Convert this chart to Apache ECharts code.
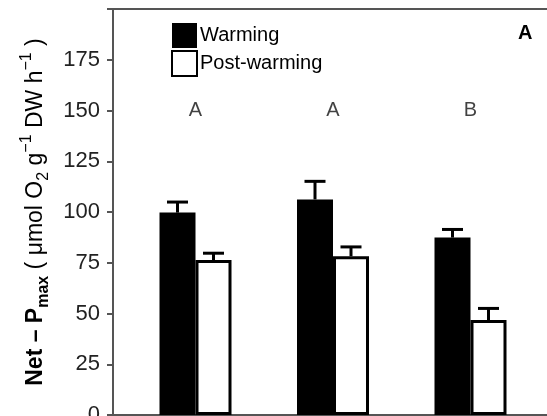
<!DOCTYPE html>
<html>
<head>
<meta charset="utf-8">
<script src="https://cdn.jsdelivr.net/npm/echarts@6/dist/echarts.min.js"></script>
<style>
  html, body { margin: 0; padding: 0; background: #fff; }
  #chart { width: 547px; height: 416px; }
</style>
</head>
<body>
<div id="chart"></div>
<script>
// Net photosynthesis (Pmax) per group, warming vs. post-warming, with SE
const groups = [1, 2, 3];
const warming = [99.7, 106.2, 87.4];
const warmingSE = [5.2, 8.9, 4.0];
const postWarming = [76.3, 78.2, 46.8];
const postWarmingSE = [3.4, 4.6, 5.7];
const letters = ['A', 'A', 'B'];
const letterLevel = 150;
const yTicks = [0, 25, 50, 75, 100, 125, 150, 175];

const BAR_W = 36;
const FONT = '"Liberation Sans", Arial, Helvetica, sans-serif';

// upper-only error whiskers, drawn over the centre of each bar
function errorSeries(name, means, ses, shift) {
  return {
    type: 'custom',
    name: name,
    data: groups.map((g, i) => [g, means[i], means[i] + ses[i]]),
    renderItem: function (params, api) {
      const base = api.coord([api.value(0), api.value(1)]);
      const top = api.coord([api.value(0), api.value(2)]);
      const x = base[0] + shift;
      const half = 10.5;
      return {
        type: 'group',
        children: [
          { type: 'line', shape: { x1: x, y1: base[1], x2: x, y2: top[1] },
            style: { stroke: '#000', lineWidth: 3 } },
          { type: 'line', shape: { x1: x - half, y1: top[1], x2: x + half, y2: top[1] },
            style: { stroke: '#000', lineWidth: 3 } }
        ]
      };
    },
    z: 3
  };
}

const chart = echarts.init(document.getElementById('chart'), null, { renderer: 'canvas' });

chart.setOption({
  animation: false,
  backgroundColor: '#fff',
  textStyle: { fontFamily: FONT },
  title: {
    text: 'A',
    left: 513, top: 18,
    textStyle: { fontSize: 20, fontWeight: 'bold', color: '#000', fontFamily: FONT }
  },
  legend: {
    data: ['Warming', 'Post-warming'],
    orient: 'vertical',
    left: 171, top: 23,
    padding: 0,
    itemWidth: 25, itemHeight: 25, itemGap: 2,
    icon: 'rect',
    textStyle: { fontSize: 20, color: '#000', fontFamily: FONT, padding: [0, 0, 0, -2] }
  },
  grid: { left: 113, top: 9, bottom: 1, width: 440, containLabel: false, outerBoundsMode: 'none' },
  xAxis: [
    {
      type: 'value', min: 0.4, max: 3.6, position: 'bottom',
      axisLine: { show: true, lineStyle: { color: '#555', width: 2 } },
      axisTick: { show: false }, axisLabel: { show: false }, splitLine: { show: false }
    },
    {
      type: 'value', min: 0.4, max: 3.6, position: 'top',
      axisLine: { show: true, lineStyle: { color: '#555', width: 2 } },
      axisTick: { show: false }, axisLabel: { show: false }, splitLine: { show: false }
    }
  ],
  yAxis: {
    type: 'value', min: 0, max: 200, interval: 25,
    axisLine: { show: true, lineStyle: { color: '#555', width: 2 } },
    axisTick: { show: true, length: 6, lineStyle: { color: '#555', width: 2 } },
    splitLine: { show: false },
    axisLabel: {
      margin: 13, fontSize: 22, color: '#222', fontFamily: FONT,
      formatter: v => (yTicks.includes(v) ? String(v) : '')
    },
    name: '{b|Net – P}{bs|max}{n| ( μmol O}{s|2}{n| g}{p|−1}{n| DW h}{p|−1}{n| )}',
    nameLocation: 'middle',
    nameRotate: 90,
    nameGap: 61,
    nameTextStyle: {
      rich: {
        b: { fontSize: 23, fontWeight: 'bold', color: '#000', fontFamily: FONT, lineHeight: 33, verticalAlign: 'middle' },
        bs: { fontSize: 16, fontWeight: 'bold', color: '#000', fontFamily: FONT, lineHeight: 33, verticalAlign: 'bottom' },
        n: { fontSize: 23, color: '#000', fontFamily: FONT, lineHeight: 33, verticalAlign: 'middle' },
        s: { fontSize: 16, color: '#000', fontFamily: FONT, lineHeight: 33, verticalAlign: 'bottom' },
        p: { fontSize: 16, color: '#000', fontFamily: FONT, lineHeight: 33, verticalAlign: 'top' }
      }
    }
  },
  series: [
    {
      name: 'Warming', type: 'bar',
      barWidth: BAR_W, barGap: '0%',
      data: groups.map((g, i) => [g, warming[i]]),
      itemStyle: { color: '#000', borderWidth: 0 },
      z: 2
    },
    {
      name: 'Post-warming', type: 'bar',
      barWidth: BAR_W, barGap: '0%',
      data: groups.map((g, i) => [g, postWarming[i]]),
      itemStyle: { color: '#fff', borderColor: '#000', borderWidth: 3 },
      z: 2
    },
    errorSeries('Warming SE', warming, warmingSE, -BAR_W / 2),
    errorSeries('Post-warming SE', postWarming, postWarmingSE, BAR_W / 2),
    {
      name: 'letters', type: 'scatter',
      symbolSize: 0,
      data: groups.map((g, i) => [g, letterLevel, letters[i]]),
      label: {
        show: true, position: 'inside',
        formatter: p => p.data[2],
        fontSize: 20, color: '#111', fontFamily: FONT
      },
      silent: true
    }
  ]
});
</script>
</body>
</html>
